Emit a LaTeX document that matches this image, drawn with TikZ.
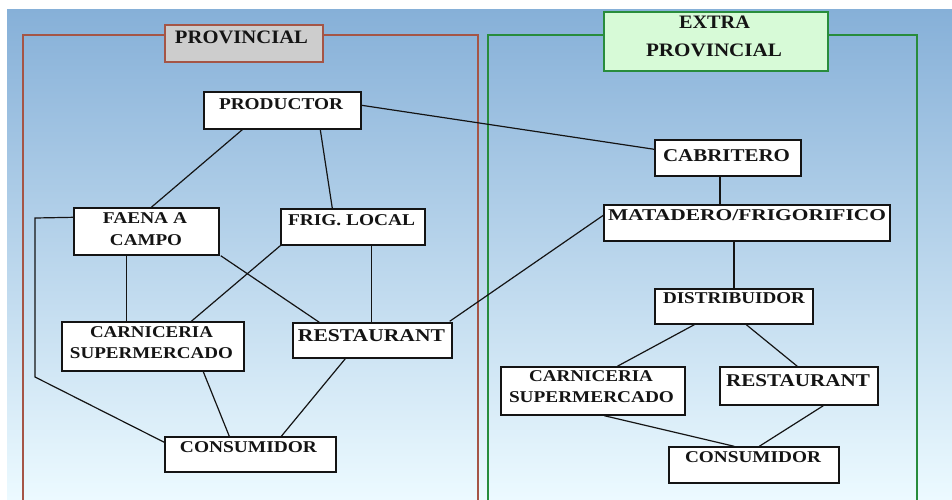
\documentclass[tikz,border=0pt]{standalone}
\usepackage{fontspec}
\setmainfont{Liberation Serif}
\usetikzlibrary{calc}
\definecolor{bgtop}{RGB}{134,176,216}
\definecolor{bgmid}{RGB}{194,223,245}
\definecolor{bgbot}{RGB}{236,250,255}
\definecolor{provred}{RGB}{165,85,70}
\definecolor{provgray}{RGB}{205,205,205}
\definecolor{extgreen}{RGB}{40,140,60}
\definecolor{extfill}{RGB}{215,250,215}
\definecolor{ink}{RGB}{20,20,20}
\newcommand\sq[2]{\resizebox{#1pt}{\height}{#2}}
\tikzset{
  bx/.style={draw=ink, line width=1.4pt, fill=white, inner sep=0pt},
  txt/.style={inner sep=0pt, anchor=base, text=ink, font=\fontsize{16.5}{18}\selectfont\bfseries},
  txtL/.style={txt, font=\fontsize{18}{20}\selectfont\bfseries},
  bigtxt/.style={txt, font=\fontsize{19}{20}\selectfont\bfseries},
  conn/.style={draw=ink, line width=1.2pt}
}
\begin{document}
\begin{tikzpicture}[x=1pt,y=-1pt]
\useasboundingbox (0,0) rectangle (952,499);
\fill[white] (0,0) rectangle (952,499);
\shade[top color=bgtop, middle color=bgmid, bottom color=bgbot] (7,9) rectangle (952,499);
% frames
\draw[provred, line width=1.5pt] (23,510) -- (23,35) -- (478,35) -- (478,510);
\draw[extgreen, line width=1.5pt] (488,510) -- (488,35) -- (917,35) -- (917,510);
\node[draw=provred, fill=provgray, line width=1.4pt, minimum width=158pt, minimum height=37pt, inner sep=0pt] (provlab) at (244,43.5) {};
\node[draw=extgreen, fill=extfill, line width=1.4pt, minimum width=224pt, minimum height=59pt, inner sep=0pt] (extlab) at (716,41.5) {};
\node[bigtxt] (tprov) at (241.5,43) {\sq{133}{PROVINCIAL}};
\node[bigtxt] (text1) at (714.5,28) {\sq{71}{EXTRA}};
\node[bigtxt] (text2) at (714,56) {\sq{136}{PROVINCIAL}};
% boxes
\node[bx, minimum width=157pt, minimum height=37pt] (prod) at (282.5,110.5) {};
\node[bx, minimum width=145pt, minimum height=47pt] (faena) at (146.5,231.5) {};
\node[bx, minimum width=144pt, minimum height=36pt] (frig) at (353,227) {};
\node[bx, minimum width=182pt, minimum height=49pt] (carL) at (153,346.5) {};
\node[bx, minimum width=159pt, minimum height=35pt] (restL) at (372.5,340.5) {};
\node[bx, minimum width=171pt, minimum height=35pt] (consL) at (250.5,454.5) {};
\node[bx, minimum width=146pt, minimum height=36pt] (cab) at (728,158) {};
\node[bx, minimum width=286pt, minimum height=36pt] (mat) at (747,223) {};
\node[bx, minimum width=158pt, minimum height=35pt] (dist) at (734,306.5) {};
\node[bx, minimum width=184pt, minimum height=48pt] (carR) at (593,391) {};
\node[bx, minimum width=158pt, minimum height=38pt] (restR) at (799,386) {};
\node[bx, minimum width=170pt, minimum height=36pt] (consR) at (754,465) {};
% connectors
\coordinate (k1) at (35,218);
\coordinate (k2) at (35,377);
\draw[conn] ($(prod.south west)+(39,0)$) -- ($(faena.north west)+(78,0)$);
\draw[conn] ($(prod.south west)+(117,0)$) -- ($(frig.north west)+(52,0)$);
\draw[conn] ($(prod.north east)+(0,14)$) -- ($(cab.north west)+(0,10)$);
\draw[conn] ($(cab.south)+(-8,0)$) -- ($(mat.north)+(-27,0)$);
\draw[conn] ($(mat.north west)+(0,11)$) -- ($(restL.north east)+(-3,-1)$);
\draw[conn] ($(mat.south)+(-13,0)$) -- (dist.north);
\draw[conn] ($(faena.south west)+(53,0)$) -- ($(carL.north west)+(65,0)$);
\draw[conn] ($(faena.south east)+(1,0)$) -- ($(restL.north west)+(27,0)$);
\draw[conn] (frig.south west) -- ($(carL.north west)+(130,0)$);
\draw[conn] ($(frig.south west)+(91,0)$) -- ($(restL.north west)+(79,0)$);
\draw[conn] ($(faena.north west)+(0,10)$) -- (k1) -- (k2) -- ($(consL.north west)+(0,6)$);
\draw[conn] ($(carL.south west)+(142,0)$) -- ($(consL.north west)+(65,0)$);
\draw[conn] ($(restL.south west)+(53,0)$) -- ($(consL.north west)+(117,0)$);
\draw[conn] ($(dist.south west)+(40,0)$) -- ($(carR.north west)+(117,0)$);
\draw[conn] ($(dist.south west)+(92,0)$) -- ($(restR.north west)+(78,0)$);
\draw[conn] ($(carR.south west)+(104,0)$) -- ($(consR.north west)+(66,0)$);
\draw[conn] ($(restR.south west)+(104,0)$) -- ($(consR.north west)+(91,0)$);
% texts
\node[txt] (t1) at (281,109) {\sq{124}{PRODUCTOR}};
\node[txt] (t2) at (145,223) {\sq{84}{FAENA A}};
\node[txt] (t3) at (146,245) {\sq{72}{CAMPO}};
\node[txt] (t4) at (351.5,225) {\sq{127}{FRIG. LOCAL}};
\node[txt] (t5) at (151.5,337) {\sq{123}{CARNICERIA}};
\node[txt] (t6) at (151.5,358) {\sq{163}{SUPERMERCADO}};
\node[txtL] (t7) at (371.5,341) {\sq{147}{RESTAURANT}};
\node[txt] (t8) at (248.5,452) {\sq{137}{CONSUMIDOR}};
\node[txtL] (t9) at (726.5,161) {\sq{127}{CABRITERO}};
\node[txt] (t10) at (747,220) {\sq{278}{MATADERO/FRIGORIFICO}};
\node[txt] (t11) at (734,303) {\sq{142}{DISTRIBUIDOR}};
\node[txt] (t12) at (591,381) {\sq{124}{CARNICERIA}};
\node[txt] (t13) at (591.5,402) {\sq{165}{SUPERMERCADO}};
\node[txtL] (t14) at (798,386) {\sq{144}{RESTAURANT}};
\node[txt] (t15) at (753,462) {\sq{136}{CONSUMIDOR}};
\end{tikzpicture}
\end{document}
